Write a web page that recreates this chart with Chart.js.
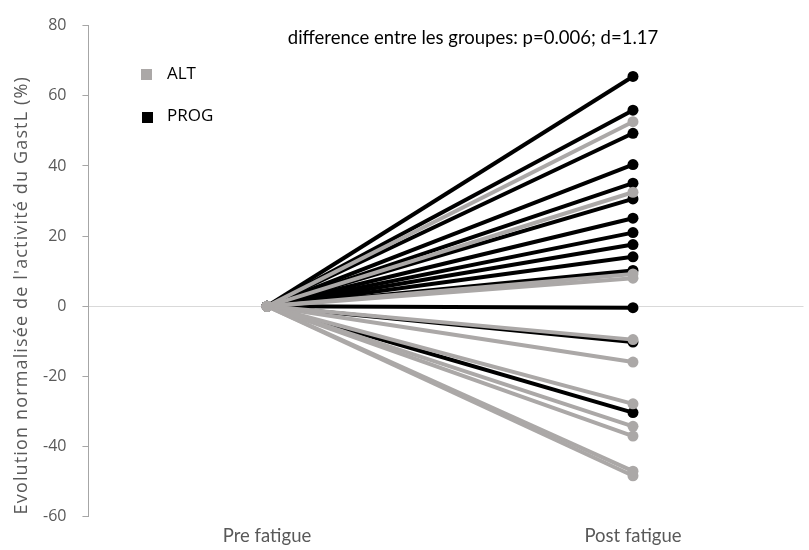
<!DOCTYPE html>
<html>
<head>
<meta charset="utf-8">
<script src="https://cdn.jsdelivr.net/npm/chart.js@4"></script>
<style>
  html, body { margin: 0; padding: 0; background: #fff; }
  #wrap { width: 809px; height: 550px; position: relative; }
</style>
</head>
<body>
<div id="wrap"><canvas id="chart"></canvas></div>
<script>
// categories on the x axis
const phases = ['Pre fatigue', 'Post fatigue'];
// post-fatigue values (pre is always 0), one per subject
const altPost = [52.6, 32.5, 9.2, 8.0, -9.5, -15.9, -27.8, -34.2, -37.0, -47.0, -48.3];
const progPost = [65.5, 55.9, 49.3, 40.4, 35.1, 30.6, 25.1, 21.0, 17.6, 14.1, 10.2, -0.4, -10.2, -30.3];
const preValue = 0;
const yTicks = [-60, -40, -20, 0, 20, 40, 60, 80];
const legendItems = ['ALT', 'PROG'];
const yTitle = "Evolution normalisée de l'activité du GastL (%)";
const note = 'difference entre les groupes: p=0.006; d=1.17';

const grey = '#aba8a7';
const black = '#000000';

function subjectLine(v, color) {
  return {
    data: [{ x: 0, y: preValue }, { x: 1, y: v }],
    borderColor: color,
    backgroundColor: color,
    borderWidth: 4,
    pointRadius: 5.5,
    pointBorderWidth: 0,
    pointBackgroundColor: color,
  };
}

// first datasets are painted last, so ALT ends up on top
const datasets = [
  ...altPost.map(v => subjectLine(v, grey)),
  ...progPost.map(v => subjectLine(v, black)),
];

const overlay = {
  id: 'overlay',
  afterDraw(chart) {
    const ctx = chart.ctx;
    const area = chart.chartArea;
    ctx.save();
    ctx.textBaseline = 'middle';
    // legend
    ctx.font = '17px "Open Sans"';
    ctx.fillStyle = grey;
    ctx.fillRect(141, 69, 11, 11);
    ctx.fillStyle = black;
    ctx.fillRect(142, 112, 11, 11);
    ctx.fillStyle = '#000';
    ctx.fillText(legendItems[0], 167, 74);
    ctx.fillText(legendItems[1], 167, 116);
    // note
    ctx.font = '18.5px Lato';
    ctx.textAlign = 'center';
    ctx.fillText(note, 473, 38);
    // y axis title
    ctx.translate(22, (area.top + area.bottom) / 2 + 24);
    ctx.rotate(-Math.PI / 2);
    ctx.font = '18px "Open Sans"';
    ctx.letterSpacing = '1.15px';
    ctx.fillStyle = '#595959';
    ctx.fillText(yTitle, 0, 0);
    ctx.restore();
  }
};

new Chart(document.getElementById('chart'), {
  type: 'line',
  data: { datasets },
  options: {
    responsive: true,
    maintainAspectRatio: false,
    animation: false,
    layout: { padding: { top: 17, right: 0, left: 27, bottom: 3 } },
    plugins: {
      legend: { display: false },
      tooltip: { enabled: false },
    },
    scales: {
      x: {
        type: 'linear',
        min: -0.488,
        max: 1.466,
        afterBuildTicks: (axis) => { axis.ticks = [{ value: 0 }, { value: 1 }]; },
        ticks: {
          callback: (v) => phases[v],
          color: '#595959',
          font: { family: 'Lato', size: 18.5 },
          padding: 0,
          maxRotation: 0,
        },
        grid: { display: false },
        border: { display: false },
      },
      y: {
        min: -60,
        max: 80,
        afterBuildTicks: (axis) => { axis.ticks = yTicks.map(v => ({ value: v })); },
        ticks: {
          color: '#595959',
          font: { family: 'Open Sans', size: 16 },
          padding: 16,
        },
        grid: {
          color: (c) => c.tick && c.tick.value === 0 ? '#d9d9d9' : 'rgba(0,0,0,0)',
          tickColor: '#a6a6a6',
          tickLength: 6,
          lineWidth: 1,
        },
        border: { display: true, color: '#a6a6a6', width: 1 },
      },
    },
  },
  plugins: [overlay],
});
</script>
</body>
</html>
